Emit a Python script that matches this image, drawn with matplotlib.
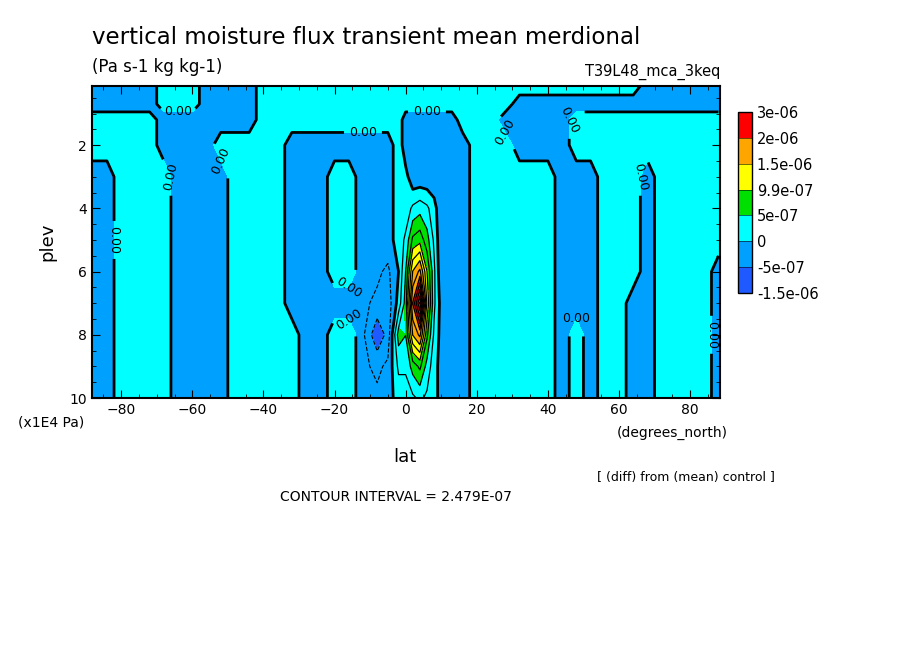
import numpy as np
import matplotlib
matplotlib.use("Agg")
import matplotlib.pyplot as plt
from matplotlib.colors import ListedColormap, BoundaryNorm
import matplotlib.colorbar as mcb

lats = [-88,-84,-80,-76,-72,-68,-64,-60,-56,-52,-48,-44,-40,-36,-32,-28,-24,-20,-16,-12,
        -8,-5,-2,0,2,4,6,8,10,13,16,20,24,28,32,36,40,44,48,52,56,60,64,68,72,76,80,84,88]
plevs = [0.13, 0.7, 1.2, 2, 3, 4, 5, 6, 7, 8, 9, 10]

B, C = -2, 2
# values in units of 1e-7 Pa s-1 kg kg-1, rows follow plevs
r013 = [B,B,B,B,B,C,C,C,B,B,B,B,C,C,C,C,C,C,C,C,C,C,C,C,C,C,C,C,C,C,C,C,C,C,C,C,C,C,C,C,C,C,C,B,B,B,B,B,B]
r07  = [B,B,B,B,B,C,C,C,B,B,B,B,C,C,C,C,C,C,C,C,C,C,C,C,C,C,C,C,C,C,C,C,C,C,B,B,B,B,B,B,B,B,B,B,B,B,B,B,B]
r12  = [C,C,C,C,C,B,B,B,B,B,B,B,C,C,C,C,C,C,C,C,C,C,C,B,B,B,B,B,B,B,C,C,C,B,B,B,B,B,C,C,C,C,C,C,C,C,C,C,C]
r2   = [C,C,C,C,C,B,B,B,B,C,C,C,C,C,B,B,B,B,B,B,B,B,C,B,B,B,B,B,B,B,B,C,C,C,B,B,B,B,C,C,C,C,C,C,C,C,C,C,C]
r3   = [B,B,C,C,C,C,B,B,B,B,C,C,C,C,B,B,B,C,C,B,B,B,C,1,B,B,B,B,B,B,B,C,C,C,C,C,C,B,B,B,C,C,C,B,C,C,C,C,C]
r4   = [B,B,C,C,C,C,B,B,B,B,C,C,C,C,B,B,B,C,C,B,B,B,C,1,3,4,3,1,B,B,B,C,C,C,C,C,C,B,B,B,C,C,C,B,C,C,C,C,C]
r5   = [B,B,C,C,C,C,B,B,B,B,C,C,C,C,B,B,B,C,C,B,B,-1,1,3,8,9,6,2,-2,B,B,C,C,C,C,C,C,B,B,B,C,C,C,B,C,C,C,C,C]
r6   = [B,B,C,C,C,C,B,B,B,B,C,C,C,C,B,B,B,C,C,B,-2,-3,0,5,15,18,10,3,-2,B,B,C,C,C,C,C,C,B,B,B,C,C,C,B,C,C,C,C,B]
r7   = [B,B,C,C,C,C,B,B,B,B,C,C,C,C,B,B,B,B,B,B,-3,-4,1,6,20,30,12,3,-1,B,B,C,C,C,C,C,C,B,B,B,C,C,B,B,C,C,C,C,B]
r8   = [B,B,C,C,C,C,B,B,B,B,C,C,C,C,C,B,B,C,C,B,-7,-4,6,5,15,18,8,2,-1,B,B,C,C,C,C,C,C,B,C,B,C,C,B,B,C,C,C,C,B]
r9   = [B,B,C,C,C,C,B,B,B,B,C,C,C,C,C,B,B,C,C,B,-3,-2,3,3,6,8,4,1,-1,B,B,C,C,C,C,C,C,B,C,B,C,C,B,B,C,C,C,C,B]
r10  = [B,B,C,C,C,C,B,B,B,B,C,C,C,C,C,B,B,C,C,B,-2,-1,1,1,2,3,2,1,-1,B,B,C,C,C,C,C,C,B,C,B,C,C,B,B,C,C,C,C,B]
rows = [r013, r07, r12, r2, r3, r4, r5, r6, r7, r8, r9, r10]

cbar_levels = [-1.5e-06, -5e-07, 0, 5e-07, 9.9e-07, 1.5e-06, 2e-06, 3e-06]
cbar_labels = ['-1.5e-06', '-5e-07', '0', '5e-07', '9.9e-07', '1.5e-06', '2e-06', '3e-06']
colors = ['#1e5aff', '#00a0ff', '#00ffff', '#00e000', '#ffff00', '#ffa500', '#ff0000']
interval = 2.479e-07

Z = np.array(rows, dtype=float) * 1e-7
X, Y = np.meshgrid(lats, plevs)

fig = plt.figure(figsize=(9.04, 6.54), dpi=100)
ax = fig.add_axes([92/904, 1-398/654, 628/904, 312/654])
cmap = ListedColormap(colors)
norm = BoundaryNorm(cbar_levels, cmap.N)
fill_lv = [-1e-5] + cbar_levels[1:-1] + [1e-5]
ax.contourf(X, Y, Z, levels=fill_lv, colors=colors)

ks = np.arange(-12, 14)
pos = [k*interval for k in ks if k > 0]
neg = [k*interval for k in ks if k < 0]
ax.contour(X, Y, Z, levels=pos, colors='k', linewidths=0.9)
ax.contour(X, Y, Z, levels=neg, colors='k', linewidths=0.8, linestyles='dashed')
cz = ax.contour(X, Y, Z, levels=[0.0], colors='k', linewidths=2.0)
ax.clabel(cz, fmt='%.2f', fontsize=9, inline=True)

ax.set_xlim(-88.2, 88.4)
ax.set_ylim(10, 0.13)
ax.set_xticks([-80, -60, -40, -20, 0, 20, 40, 60, 80])
ax.set_yticks([2, 4, 6, 8, 10])
ax.set_xticks(np.arange(-85, 90, 5), minor=True)
ax.set_yticks(np.arange(0.5, 10, 0.5), minor=True)
ax.tick_params(which='both', direction='in', top=True, right=True, labelsize=10)
ax.tick_params(which='major', length=6)
ax.tick_params(which='minor', length=3)
for s in ax.spines.values():
    s.set_linewidth(1.5)

fig.text(92/904, 1-37/654, 'vertical moisture flux transient mean merdional', fontsize=16.5, va='center')
fig.text(92/904, 1-67/654, '(Pa s-1 kg kg-1)', fontsize=12, va='center')
fig.text(720/904, 1-72/654, 'T39L48_mca_3keq', fontsize=10.5, va='center', ha='right')
fig.text(47/904, 1-242/654, 'plev', fontsize=13, rotation=90, va='center', ha='center')
fig.text(18/904, 1-423/654, '(x1E4 Pa)', fontsize=10, va='center')
fig.text(405/904, 1-457/654, 'lat', fontsize=13, va='center', ha='center')
fig.text(617/904, 1-433/654, '(degrees_north)', fontsize=10, va='center')
fig.text(597/904, 1-477/654, '[ (diff) from (mean) control ]', fontsize=9, va='center')
fig.text(280/904, 1-497/654, 'CONTOUR INTERVAL = 2.479E-07', fontsize=10, va='center')

cax = fig.add_axes([738/904, 1-293/654, 14/904, 181/654])
cb = mcb.ColorbarBase(cax, cmap=cmap, norm=norm, boundaries=cbar_levels,
                      spacing='uniform', ticks=cbar_levels, drawedges=True)
cb.set_ticklabels(cbar_labels)
cb.ax.tick_params(length=0, labelsize=10.5)
cb.outline.set_linewidth(1)

fig.savefig('out.png', dpi=100)
